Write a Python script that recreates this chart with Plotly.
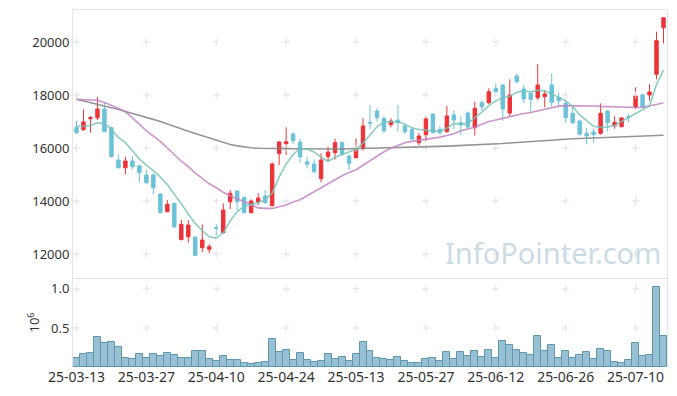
import plotly.graph_objects as go

dates = ["25-03-13","25-03-14","25-03-17","25-03-18","25-03-19","25-03-20","25-03-21","25-03-24","25-03-25","25-03-26",
         "25-03-27","25-03-28","25-03-31","25-04-01","25-04-02","25-04-03","25-04-04","25-04-07","25-04-08","25-04-09",
         "25-04-10","25-04-11","25-04-14","25-04-15","25-04-16","25-04-17","25-04-18","25-04-21","25-04-22","25-04-23",
         "25-04-24","25-04-25","25-04-28","25-04-29","25-04-30","25-05-02","25-05-07","25-05-08","25-05-09","25-05-12",
         "25-05-13","25-05-14","25-05-15","25-05-16","25-05-19","25-05-20","25-05-21","25-05-22","25-05-23","25-05-26",
         "25-05-27","25-05-28","25-05-29","25-05-30","25-06-02","25-06-04","25-06-05","25-06-09","25-06-10","25-06-11",
         "25-06-12","25-06-13","25-06-16","25-06-17","25-06-18","25-06-19","25-06-20","25-06-23","25-06-24","25-06-25",
         "25-06-26","25-06-27","25-06-30","25-07-01","25-07-02","25-07-03","25-07-04","25-07-07","25-07-08","25-07-09",
         "25-07-10","25-07-11","25-07-14","25-07-15","25-07-16"]

open_ = [16770,16690,17105,17143,17470,16766,15547,15256,15509,15320,
         14981,14981,14263,13595,13912,12539,12652,12641,12237,12176,
         13000,12803,13973,14377,14139,13558,13962,14188,13822,15785,
         16162,16528,16226,15484,15396,14841,15671,15822,16200,15698,
         15634,15990,16970,17396,17120,16880,17056,16830,16705,16200,
         16502,17283,16705,16615,17245,16955,17320,16766,17710,17709,
         18253,18377,17320,18717,18226,18064,17898,17936,18377,17912,
         17686,17309,17019,16553,16604,16553,17396,16841,16805,17190,
         17536,18000,18000,18781,20540]
high = [17030,17460,17207,17913,17710,16800,15762,15671,15698,15384,
        15169,15067,14290,14037,13930,13282,13282,12650,13120,12365,
        13120,13912,14415,14400,14150,14063,14290,14415,15460,16264,
        16781,16600,16350,15672,15573,15799,16049,16350,16260,15750,
        16366,17120,17622,17500,17180,17120,17622,16930,16740,16560,
        17180,17300,16830,17585,17434,17200,17380,17747,17800,18253,
        18441,18400,18592,18800,18377,18100,19170,18190,18820,18100,
        17800,17560,17050,16743,16743,17686,17420,17200,17160,17300,
        18290,18050,18415,20389,20917]
low = [16530,16650,16577,17056,16600,15650,15218,15007,15207,14705,
       14641,14263,13540,13580,12969,12520,12426,11950,12075,12025,
       12690,12780,13700,13660,13540,13540,13850,13900,13800,15358,
       15735,16150,15445,15234,15045,14705,15483,15560,15700,15169,
       15610,15898,16705,17000,16555,16780,16615,16530,16300,16100,
       16260,16550,16500,16577,16700,16480,16700,16470,17400,17650,
       18064,17030,17180,18440,17687,17370,17810,17536,17560,17560,
       16940,16900,16440,16139,16200,16500,16615,16730,16780,16960,
       17470,17536,17785,18592,19950]
close = [16580,16980,17143,17470,16615,15671,15256,15509,15294,15067,
         14690,14501,13558,13875,13030,13120,13094,11950,12528,12276,
         12970,13660,14290,13973,13558,13999,14113,13935,15396,16226,
         16238,16275,15671,15384,15105,15547,15849,16200,15773,15422,
         15974,16830,16940,17143,16652,17019,16955,16615,16340,16452,
         17094,16577,16577,17207,17056,16868,16790,17500,17558,18124,
         18124,17471,18000,18502,17849,17837,18377,18037,17724,17785,
         17143,16955,16528,16452,16502,17309,16955,16970,17132,17170,
         17962,17536,18113,20050,20917]

volume = [0.115,0.165,0.178,0.380,0.305,0.318,0.254,0.115,0.102,0.165,
          0.115,0.165,0.140,0.178,0.153,0.115,0.115,0.204,0.204,0.102,
          0.076,0.140,0.089,0.089,0.051,0.038,0.051,0.064,0.356,0.191,
          0.216,0.089,0.178,0.089,0.064,0.076,0.165,0.102,0.127,0.076,
          0.165,0.318,0.204,0.115,0.102,0.089,0.127,0.076,0.051,0.051,
          0.102,0.115,0.076,0.191,0.102,0.191,0.140,0.204,0.127,0.216,
          0.115,0.331,0.280,0.216,0.178,0.153,0.394,0.204,0.280,0.115,
          0.204,0.115,0.153,0.191,0.102,0.229,0.204,0.064,0.051,0.089,
          0.305,0.140,0.153,1.030,0.394]  # millions

ma5 = [16830,16820,16850,16950,16920,16700,16400,16200,15900,15580,
       15350,15150,14900,14620,14250,13900,13500,13150,12880,12650,
       12600,12800,13250,13600,13800,13870,13930,14050,14300,14900,
       15400,15750,15990,15950,15850,15650,15500,15650,15750,15850,
       15950,16180,16500,16800,16980,17000,16990,16900,16760,16700,
       16680,16650,16620,16750,16930,16900,16920,17150,17350,17600,
       17780,17900,17950,18100,18150,18120,18180,18150,18050,17920,
       17780,17560,17250,17050,16820,16780,16790,16850,17000,17120,
       17300,17450,17600,18400,18940]
ma20 = [17840,17820,17810,17800,17720,17620,17500,17370,17150,16900,
        16650,16450,16250,16000,15750,15500,15300,15050,14850,14650,
        14500,14330,14200,14080,13980,13850,13740,13720,13720,13780,
        13850,13960,14050,14200,14350,14520,14650,14800,14950,15080,
        15180,15350,15530,15700,15860,15990,16100,16200,16250,16290,
        16320,16360,16410,16470,16540,16650,16720,16780,16900,17000,
        17060,17120,17200,17260,17300,17340,17400,17450,17520,17580,
        17600,17600,17590,17590,17585,17570,17560,17550,17535,17530,
        17530,17540,17580,17640,17710]
ma60 = [17840,17780,17720,17650,17590,17520,17450,17380,17300,17220,
        17150,17080,17000,16900,16810,16720,16630,16550,16460,16370,
        16290,16200,16130,16080,16040,16010,15990,15980,15975,15975,
        15975,15970,15965,15960,15960,15960,15960,15960,15965,15970,
        15975,15980,15985,15990,16000,16010,16015,16020,16030,16040,
        16050,16055,16060,16070,16080,16090,16100,16110,16115,16130,
        16150,16170,16190,16210,16230,16250,16270,16290,16310,16325,
        16340,16350,16360,16370,16380,16390,16395,16400,16410,16420,
        16430,16440,16450,16465,16480]

price_ticks = [12000, 14000, 16000, 18000, 20000]
vol_ticks = [0.5, 1.0]
date_tick_idx = [0, 10, 20, 30, 40, 50, 60, 70, 80]

RED = "#ec3338"
CYAN = "#6cc2d8"
idx = list(range(len(dates)))

fig = go.Figure()

# grid crosses at tick intersections
gx = [i for i in date_tick_idx for _ in price_ticks]
gy = [p for _ in date_tick_idx for p in price_ticks]
fig.add_trace(go.Scatter(x=gx, y=gy, mode="markers", xaxis="x", yaxis="y",
                         marker=dict(symbol="cross-thin", size=5, line=dict(color="#e0e0e0", width=1)),
                         hoverinfo="skip", showlegend=False))
vx = [i for i in date_tick_idx for _ in vol_ticks]
vy = [v for _ in date_tick_idx for v in vol_ticks]
fig.add_trace(go.Scatter(x=vx, y=vy, mode="markers", xaxis="x2", yaxis="y2",
                         marker=dict(symbol="cross-thin", size=5, line=dict(color="#e0e0e0", width=1)),
                         hoverinfo="skip", showlegend=False))

fig.add_trace(go.Scatter(x=idx, y=ma60, mode="lines", line=dict(color="rgba(130,130,130,0.85)", width=1.6),
                         showlegend=False, xaxis="x", yaxis="y"))
fig.add_trace(go.Scatter(x=idx, y=ma20, mode="lines", line=dict(color="rgba(195,130,195,0.85)", width=1.6),
                         showlegend=False, xaxis="x", yaxis="y"))
fig.add_trace(go.Scatter(x=idx, y=ma5, mode="lines", line=dict(color="rgba(120,195,185,0.85)", width=1.6),
                         showlegend=False, xaxis="x", yaxis="y"))

fig.add_trace(go.Candlestick(x=idx, open=open_, high=high, low=low, close=close,
                             increasing=dict(line=dict(color=RED, width=1), fillcolor=RED),
                             decreasing=dict(line=dict(color=CYAN, width=1), fillcolor=CYAN),
                             whiskerwidth=0, showlegend=False, xaxis="x", yaxis="y"))

fig.add_trace(go.Bar(x=idx, y=volume, width=1.0, xaxis="x2", yaxis="y2",
                     marker=dict(color="rgba(140,185,205,0.9)", line=dict(color="#5f97ae", width=1)),
                     showlegend=False))

# page body has an 8px default margin: compensate so the plot area lands at x 73..667, y 10..367
split = (367 - 278) / 357.0

fig.update_layout(
    width=669, height=388,
    margin=dict(l=65, r=10, t=2, b=29),
    paper_bgcolor="white", plot_bgcolor="white",
    font=dict(family="Noto Sans", size=13, color="#333333"),
    showlegend=False,
    bargap=0,
    xaxis=dict(domain=[0, 1], range=[-0.5, 84.5], showticklabels=False, showgrid=False,
               zeroline=False, showline=True, mirror=True, linecolor="#e4e4e4", linewidth=1,
               rangeslider=dict(visible=False), anchor="y", ticks=""),
    yaxis=dict(domain=[split, 1], range=[11094, 21208], tickvals=price_ticks,
               ticktext=[str(p) for p in price_ticks], showgrid=False, zeroline=False,
               showline=True, mirror=True, linecolor="#e4e4e4", linewidth=1, ticks="", anchor="x"),
    xaxis2=dict(domain=[0, 1], range=[-0.5, 84.5], tickvals=date_tick_idx,
                ticktext=[dates[i] for i in date_tick_idx], showgrid=False, zeroline=False,
                showline=False, anchor="y2", ticks="", tickfont=dict(size=14)),
    yaxis2=dict(domain=[0, split], range=[0, 1.14], tickvals=vol_ticks,
                ticktext=["0.5", "1.0"], showgrid=False, zeroline=False,
                showline=True, mirror=True, linecolor="#e4e4e4", linewidth=1, ticks="", anchor="x2",
                title=dict(text="10<sup>6</sup>", standoff=8, font=dict(size=13))),
    annotations=[dict(text="InfoPointer.com", xref="paper", yref="paper", x=0.994, y=0.322,
                      xanchor="right", yanchor="middle", showarrow=False,
                      font=dict(family="Noto Sans", size=29, color="rgba(185,208,222,0.75)"))],
)

fig.write_html("out.html")
